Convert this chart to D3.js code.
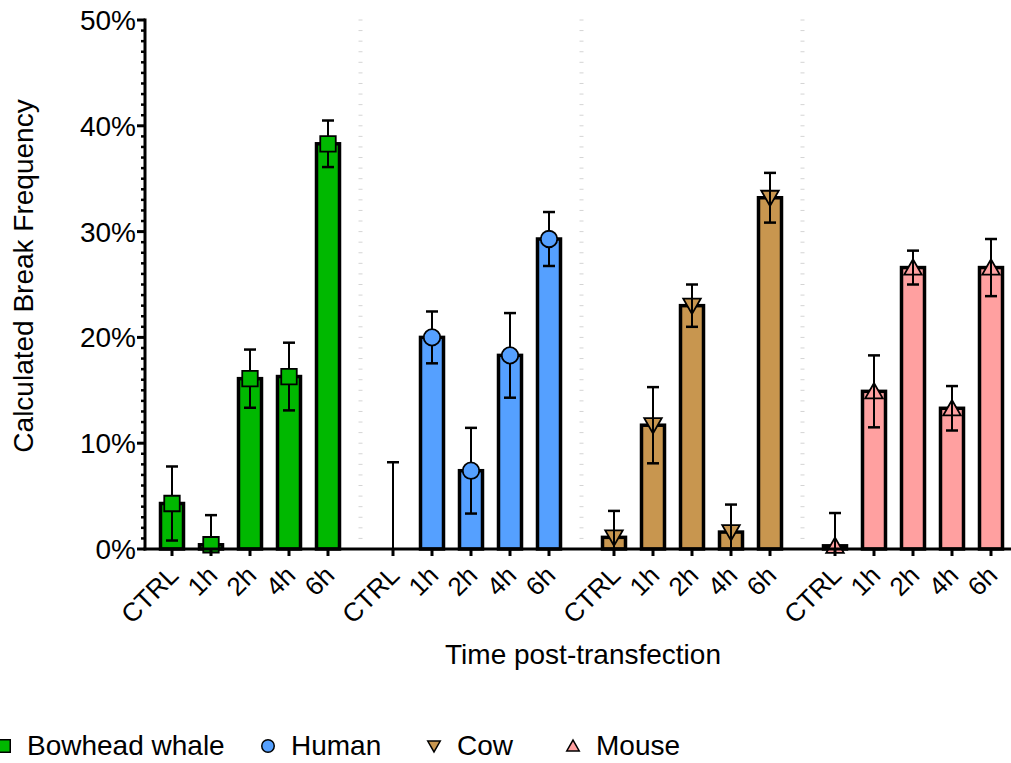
<!DOCTYPE html>
<html><head><meta charset="utf-8">
<script src="https://cdn.jsdelivr.net/npm/d3@7"></script>
<style>
html,body{margin:0;padding:0;background:#fff;}
svg{display:block;font-family:"Liberation Sans",Arial,Helvetica,sans-serif;}
</style></head>
<body>
<svg id="chart" width="1011" height="763"></svg>
<script>
const species = ["Bowhead whale", "Human", "Cow", "Mouse"];
const timepoints = ["CTRL", "1h", "2h", "4h", "6h"];
const whaleMean = [4.3, 0.4, 16.1, 16.3, 38.3];
const whaleSD   = [3.5, 2.8, 2.75, 3.2, 2.2];
const humanMean = [0, 20.0, 7.4, 18.3, 29.3];
const humanSD   = [8.2, 2.45, 4.05, 4.0, 2.55];
const cowMean   = [1.1, 11.7, 23.0, 1.6, 33.2];
const cowSD     = [2.5, 3.6, 2.0, 2.6, 2.35];
const mouseMean = [0.3, 14.9, 26.6, 13.3, 26.6];
const mouseSD   = [3.1, 3.4, 1.6, 2.1, 2.7];
const colors    = ["#00B800", "#55A0FF", "#C8964F", "#FFA0A0"];
const symbols   = ["square", "circle", "triangleDown", "triangleUp"];
const yTicks    = [0, 10, 20, 30, 40, 50];
const yTickLabels = ["0%", "10%", "20%", "30%", "40%", "50%"];

const means = [whaleMean, humanMean, cowMean, mouseMean];
const sds = [whaleSD, humanSD, cowSD, mouseSD];

const svg = d3.select("#chart");
const axisX = 145, baseY = 549, topY = 20;
const groupGap = 26 / 39;
const slot = (g, i) => g * (5 + groupGap) + i;
const x = d3.scaleLinear().domain([0, slot(3, 4)]).range([172, 991]);
const y = d3.scaleLinear().domain([0, 50]).range([baseY, topY]);

const data = [];
species.forEach((s, g) => timepoints.forEach((t, i) => {
  data.push({g, i, s, t, v: means[g][i], sd: sds[g][i]});
}));

// group separators (light dashes)
for (let g = 1; g < 4; g++) {
  const sx = (x(slot(g - 1, 4)) + x(slot(g, 0))) / 2;
  const minors = d3.range(1, 51);
  svg.append("g").selectAll("line").data(minors).join("line")
    .attr("x1", sx - 2).attr("x2", sx + 2)
    .attr("y1", d => y(d)).attr("y2", d => y(d))
    .attr("stroke", "#d4d4d4").attr("stroke-width", 1);
}

// bars
const barW = 23;
svg.append("g").selectAll("rect").data(data.filter(d => d.v > 0)).join("rect")
  .attr("x", d => x(slot(d.g, d.i)) - barW / 2)
  .attr("width", barW)
  .attr("y", d => y(d.v))
  .attr("height", d => y(0) - y(d.v))
  .attr("fill", d => colors[d.g])
  .attr("stroke", "#000").attr("stroke-width", 3.5);

function errorBars(sel) {
  const eg = sel.append("g").attr("stroke", "#000");
  data.forEach(d => {
    const cx = x(slot(d.g, d.i));
    const hi = d.v + d.sd, lo = d.v - d.sd;
    eg.append("line").attr("x1", cx).attr("x2", cx)
      .attr("y1", y(hi)).attr("y2", y(Math.max(0, lo))).attr("stroke-width", 2);
    eg.append("line").attr("x1", cx - 6).attr("x2", cx + 6)
      .attr("y1", y(hi)).attr("y2", y(hi)).attr("stroke-width", 2.5);
    if (lo > 0) {
      eg.append("line").attr("x1", cx - 6).attr("x2", cx + 6)
        .attr("y1", y(lo)).attr("y2", y(lo)).attr("stroke-width", 2.5);
    }
  });
}

function symbolPath(type, size) {
  const h = size / 2;
  if (type === "square") return `M${-h},${-h}H${h}V${h}H${-h}Z`;
  if (type === "circle") return d3.symbol(d3.symbolCircle, Math.PI * h * h)();
  if (type === "triangleDown") return `M${-h},${-h * 0.8}L${h},${-h * 0.8}L0,${h * 0.95}Z`;
  return `M${-h},${h * 0.8}L${h},${h * 0.8}L0,${-h * 0.95}Z`;
}

const markerSize = [15.5, 16.5, 17.5, 17.5];

const errLayer = svg.append("g");
errorBars(errLayer);

svg.append("g").selectAll("path").data(data.filter(d => d.v > 0)).join("path")
  .attr("transform", d => `translate(${x(slot(d.g, d.i))},${y(d.v)})`)
  .attr("d", d => symbolPath(symbols[d.g], markerSize[d.g]))
  .attr("fill", d => colors[d.g])
  .attr("stroke", "#000").attr("stroke-width", 1.8);

// error lines visible through triangles
const triErr = svg.append("g").attr("stroke", "#000");
data.filter(d => d.g >= 2 && d.v > 0).forEach(d => {
  const cx = x(slot(d.g, d.i));
  const lo = Math.max(0, d.v - d.sd);
  triErr.append("line").attr("x1", cx).attr("x2", cx)
    .attr("y1", y(d.v + d.sd)).attr("y2", y(lo)).attr("stroke-width", 2);
});

// y axis
const ya = svg.append("g");
ya.append("line").attr("x1", axisX).attr("x2", axisX).attr("y1", y(50) - 1.5).attr("y2", baseY + 1.5)
  .attr("stroke", "#000").attr("stroke-width", 3);
ya.selectAll(".minor").data(d3.range(0, 51).filter(v => v % 10 !== 0)).join("line")
  .attr("x1", axisX - 4).attr("x2", axisX).attr("y1", d => y(d)).attr("y2", d => y(d))
  .attr("stroke", "#000").attr("stroke-width", 2.5);
ya.selectAll(".major").data(yTicks).join("line")
  .attr("x1", axisX - 8).attr("x2", axisX).attr("y1", d => y(d)).attr("y2", d => y(d))
  .attr("stroke", "#000").attr("stroke-width", 3);
ya.selectAll("text").data(yTicks).join("text")
  .attr("x", 136).attr("y", d => y(d)).attr("dy", "0.36em")
  .attr("text-anchor", "end").attr("font-size", 28).attr("fill", "#000")
  .text((d, i) => yTickLabels[i]);

// x axis
const xa = svg.append("g");
xa.append("line").attr("x1", axisX - 1.5).attr("x2", 1011).attr("y1", baseY).attr("y2", baseY)
  .attr("stroke", "#000").attr("stroke-width", 3);
xa.selectAll(".tk").data(data).join("line")
  .attr("x1", d => x(slot(d.g, d.i))).attr("x2", d => x(slot(d.g, d.i)))
  .attr("y1", baseY).attr("y2", baseY + 7)
  .attr("stroke", "#000").attr("stroke-width", 3);
xa.selectAll("text").data(data).join("text")
  .attr("transform", d => `translate(${x(slot(d.g, d.i)) + 8},${baseY + 28}) rotate(-45)`)
  .attr("text-anchor", "end").attr("font-size", 26).attr("fill", "#000")
  .text(d => d.t);

// axis titles
svg.append("text").attr("transform", "translate(33,276) rotate(-90)")
  .attr("text-anchor", "middle").attr("font-size", 28).text("Calculated Break Frequency");
svg.append("text").attr("x", 583).attr("y", 664)
  .attr("text-anchor", "middle").attr("font-size", 28).text("Time post-transfection");

// legend
const legX = [4, 268, 434, 573];
const leg = svg.append("g");
species.forEach((s, g) => {
  leg.append("path").attr("transform", `translate(${legX[g]},746)`)
    .attr("d", symbolPath(symbols[g], 12.5))
    .attr("fill", colors[g]).attr("stroke", "#000").attr("stroke-width", 1.5);
  leg.append("text").attr("x", legX[g] + 23).attr("y", 755)
    .attr("font-size", 28).attr("fill", "#000").text(s);
});
</script>
</body></html>
